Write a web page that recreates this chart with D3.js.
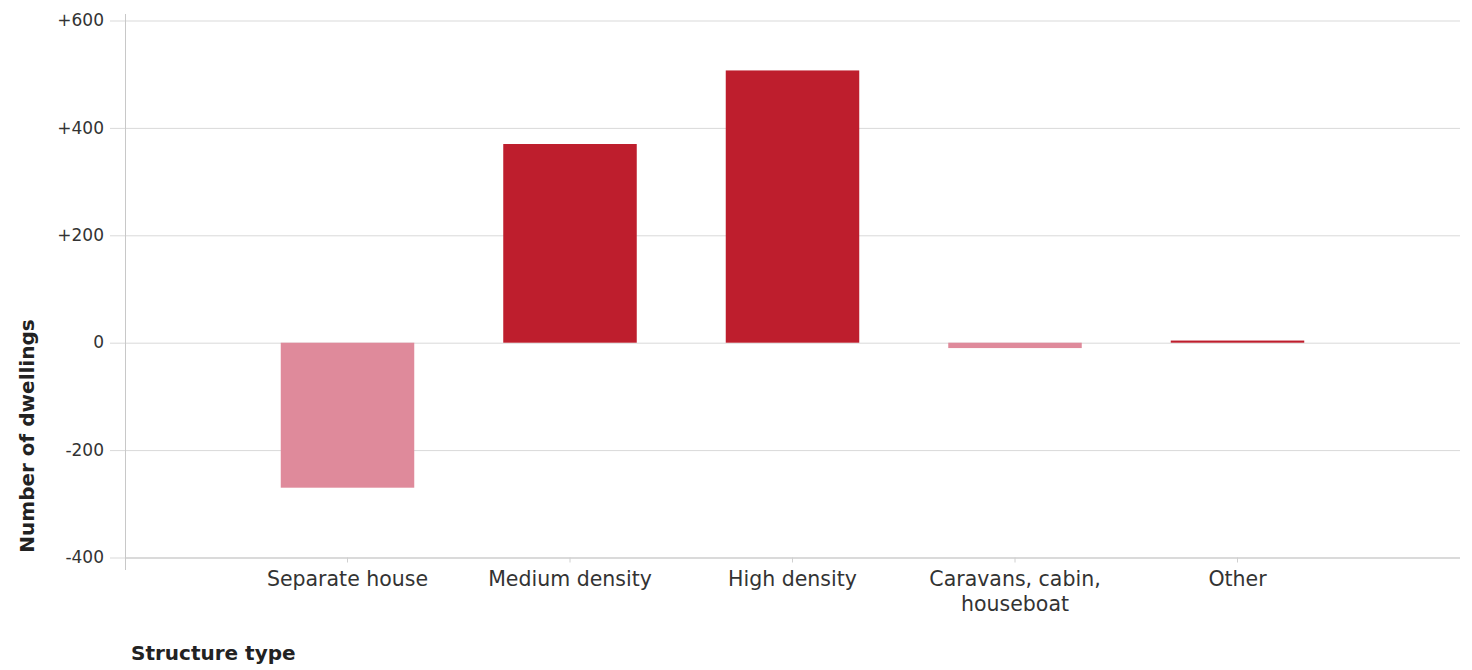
<!DOCTYPE html>
<html>
<head>
<meta charset="utf-8">
<script src="https://cdn.jsdelivr.net/npm/d3@7"></script>
<style>
  html, body { margin: 0; padding: 0; background: #fff; }
  svg { display: block; }
</style>
</head>
<body>
<svg id="chart" width="1472" height="670"></svg>
<script>
// ---- data ----
const categories = ["Separate house", "Medium density", "High density", "Caravans, cabin, houseboat", "Other"];
const categoryLines = [["Separate house"], ["Medium density"], ["High density"], ["Caravans, cabin,", "houseboat"], ["Other"]];
const values = [-270, 370, 507, -10, 4];
const yTickValues = [600, 400, 200, 0, -200, -400];
const yTickLabels = ["+600", "+400", "+200", "0", "-200", "-400"];
const yTitle = "Number of dwellings";
const xTitle = "Structure type";

// ---- layout ----
const plotLeft = 125, plotRight = 1460, plotTop = 20.5, plotBottom = 557.5;
const posColor = "#be1e2d", negColor = "#df8a9b";

const svg = d3.select("#chart");

const x = d3.scaleBand().domain(categories).range([plotLeft, plotRight]).paddingInner(0.4).paddingOuter(0.7);
const y = d3.scaleLinear().domain([-400, 600]).range([plotBottom, plotTop]);

// gridlines + y labels
const yAxis = d3.axisLeft(y)
  .tickValues(yTickValues)
  .tickFormat((d, i) => yTickLabels[i])
  .tickSize(-(plotRight - 110))
  .tickPadding(6);
const gy = svg.append("g").attr("transform", "translate(110,0)").call(yAxis);
gy.select(".domain").remove();
gy.selectAll(".tick line").attr("stroke", "#d9d9d9").attr("stroke-width", 1);
gy.selectAll(".tick text")
  .attr("font-family", "DejaVu Sans, sans-serif")
  .attr("font-size", 17)
  .attr("fill", "#333")
  .attr("dy", "0.3em");

// x axis (ticks at category centers)
const xAxis = d3.axisBottom(x).tickSize(5).tickFormat("");
const gx = svg.append("g").attr("transform", `translate(0,${plotBottom})`).call(xAxis);
gx.select(".domain").attr("stroke", "#c8c8c8").attr("d", `M${plotLeft},0.5H${plotRight}`);
gx.selectAll(".tick line").attr("stroke", "#d0d0d0");

// vertical axis line
svg.append("line")
  .attr("x1", plotLeft + 0.5).attr("x2", plotLeft + 0.5)
  .attr("y1", 14).attr("y2", 570)
  .attr("stroke", "#c8c8c8");

// bars
svg.append("g").selectAll("rect")
  .data(values)
  .join("rect")
  .attr("x", (d, i) => x(categories[i]))
  .attr("width", x.bandwidth())
  .attr("y", d => y(Math.max(0, d)))
  .attr("height", d => Math.abs(y(d) - y(0)))
  .attr("fill", d => d >= 0 ? posColor : negColor);

// category labels
const lbl = svg.append("g").selectAll("text")
  .data(categories)
  .join("text")
  .attr("x", d => x(d) + x.bandwidth() / 2)
  .attr("y", 586)
  .attr("text-anchor", "middle")
  .attr("font-family", "DejaVu Sans, sans-serif")
  .attr("font-size", 20.5)
  .attr("fill", "#333");
lbl.each(function(d, i) {
  const t = d3.select(this);
  categoryLines[i].forEach((line, j) => {
    t.append("tspan")
      .attr("x", x(d) + x.bandwidth() / 2)
      .attr("dy", j === 0 ? 0 : 25)
      .text(line);
  });
});

// axis titles
svg.append("text")
  .attr("transform", "translate(34,436) rotate(-90)")
  .attr("text-anchor", "middle")
  .attr("font-family", "DejaVu Sans, sans-serif")
  .attr("font-weight", "bold")
  .attr("font-size", 20)
  .attr("fill", "#222")
  .text(yTitle);

svg.append("text")
  .attr("x", 131)
  .attr("y", 660)
  .attr("font-family", "DejaVu Sans, sans-serif")
  .attr("font-weight", "bold")
  .attr("font-size", 20)
  .attr("fill", "#222")
  .text(xTitle);
</script>
</body>
</html>
